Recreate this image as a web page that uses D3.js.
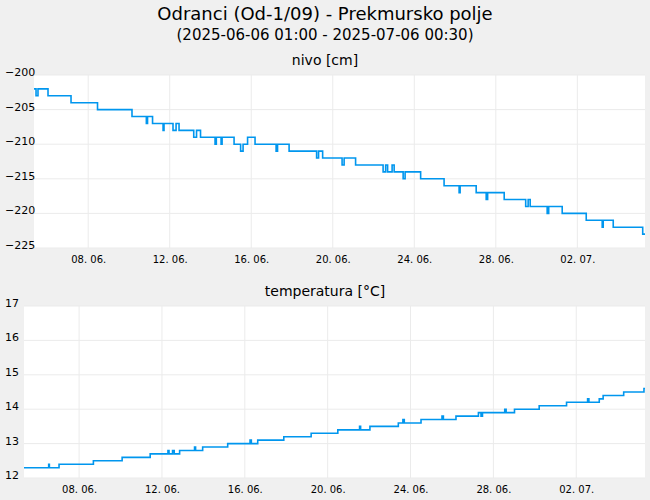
<!DOCTYPE html>
<html><head><meta charset="utf-8">
<script src="https://cdn.jsdelivr.net/npm/d3@7"></script>
<style>body{margin:0;background:#f0f0f0}svg{display:block;font-family:"DejaVu Sans",sans-serif}</style>
</head><body><svg id="c" width="650" height="500"></svg>
<script>
const title="Odranci (Od-1/09) - Prekmursko polje";
const subtitle="(2025-06-06 01:00 - 2025-07-06 00:30)";
const tickLabels=["08. 06.","12. 06.","16. 06.","20. 06.","24. 06.","28. 06.","02. 07."];
const tickDates=["2025-06-08","2025-06-12","2025-06-16","2025-06-20","2025-06-24","2025-06-28","2025-07-02"];
const domainStart="2025-06-05T08:10:00Z", totalHours=719.5;
const nivoHours=[0,2.4,4.7,16.5,43.6,74.8,115.4,132.3,133.7,139.6,152,153.1,163.7,167.3,170.8,188.1,191.4,196.1,213.2,214.7,220.3,221.5,235.6,243.3,246.2,251.5,260.3,285.1,286.8,300.4,332.8,335.1,339.9,362.8,365.2,378.7,411.1,414.1,416.4,421.7,424.1,434.7,437,455.3,482.9,500.6,501.8,520.7,532.5,534.2,553.7,579,581.9,584.3,604.3,606.1,622,650.3,669.1,670.3,682.1,716.8,719.5];
const nivoVals=[-202,-203,-202,-203,-204,-205,-206,-207,-206,-207,-208,-207,-208,-207,-208,-209,-208,-209,-210,-209,-210,-209,-210,-211,-210,-209,-210,-211,-210,-211,-212,-211,-212,-213,-212,-213,-214,-213,-214,-213,-214,-215,-214,-215,-216,-217,-216,-217,-218,-217,-218,-219,-218,-219,-220,-219,-220,-221,-222,-221,-222,-223,-223];
const tempHours=[0,28.6,29.4,40.6,80.4,113.7,146.2,166.8,168,172.1,174,180.3,197.6,198.8,207,236,261.9,263.4,270.8,301,332.7,363.6,388.8,390,400.8,433.7,439,440.6,460,484.3,485.9,500.5,526.5,529.5,531.2,557,558.6,568.3,596.9,628.6,653,654.5,666.5,671,694.8,718.3,719.5];
const tempVals=[12.3,12.4,12.3,12.4,12.5,12.6,12.7,12.8,12.7,12.8,12.7,12.8,12.9,12.8,12.9,13.0,13.1,13.0,13.1,13.2,13.3,13.4,13.5,13.4,13.5,13.6,13.7,13.6,13.7,13.8,13.7,13.8,13.9,13.8,13.9,14.0,13.9,14.0,14.1,14.2,14.3,14.2,14.3,14.4,14.5,14.6,14.6];
const nivoTicks=[-200,-205,-210,-215,-220,-225];
const tempTicks=[12,13,14,15,16,17];

const svg=d3.select("#c");
const t0=new Date(domainStart);
const toDate=h=>new Date(t0.getTime()+h*3600e3);
svg.append("text").attr("x",325).attr("y",20).attr("text-anchor","middle").attr("font-size",18).text(title);
svg.append("text").attr("x",325).attr("y",40).attr("text-anchor","middle").attr("font-size",15).text(subtitle);

function panel(o){
  const x=d3.scaleTime().domain([t0,toDate(totalHours)]).range([o.l,645]);
  const y=d3.scaleLinear().domain(o.dom).range([o.b,o.t]);
  svg.append("text").attr("x",325).attr("y",o.t-10).attr("text-anchor","middle").attr("font-size",14).text(o.label);
  svg.append("rect").attr("x",o.l).attr("y",o.t).attr("width",645-o.l).attr("height",o.b-o.t).attr("fill","#fff");
  const g=svg.append("g");
  const td=tickDates.map(s=>new Date(s+"T00:00:00Z"));
  g.selectAll(".vg").data(td).join("line").attr("x1",d=>x(d)).attr("x2",d=>x(d)).attr("y1",o.t).attr("y2",o.b).attr("stroke","#ebebeb");
  g.selectAll(".hg").data(o.ticks).join("line").attr("x1",o.l).attr("x2",645).attr("y1",d=>y(d)).attr("y2",d=>y(d)).attr("stroke","#ebebeb");
  const ya=d3.axisLeft(y).tickValues(o.ticks).tickFormat(d3.format("d")).tickSize(0);
  svg.append("g").attr("transform",`translate(${o.l},0)`).call(ya).call(a=>{a.select(".domain").remove();a.selectAll("text").attr("font-size",11).attr("font-family","DejaVu Sans").attr("fill","#000").attr("dy","0.05em").attr("text-anchor","start").attr("x",5-o.l);});
  const xa=d3.axisBottom(x).tickValues(td).tickFormat((d,i)=>tickLabels[i]).tickSize(0).tickPadding(8);
  svg.append("g").attr("transform",`translate(0,${o.b})`).call(xa).call(a=>{a.select(".domain").remove();a.selectAll("text").attr("font-size",10).attr("font-family","DejaVu Sans").attr("fill","#000");});
  const data=o.hours.map((h,i)=>[toDate(h),o.vals[i]]);
  svg.append("path").datum(data).attr("fill","none").attr("stroke","#0096ee").attr("stroke-width",1.6)
    .attr("d",d3.line().x(d=>x(d[0])).y(d=>y(d[1])).curve(d3.curveStepAfter));
}
panel({l:34,t:75,b:248,dom:[-225,-200],ticks:nivoTicks,label:"nivo [cm]",hours:nivoHours,vals:nivoVals});
panel({l:24,t:306,b:478,dom:[12,17],ticks:tempTicks,label:"temperatura [°C]",hours:tempHours,vals:tempVals});
</script></body></html>
